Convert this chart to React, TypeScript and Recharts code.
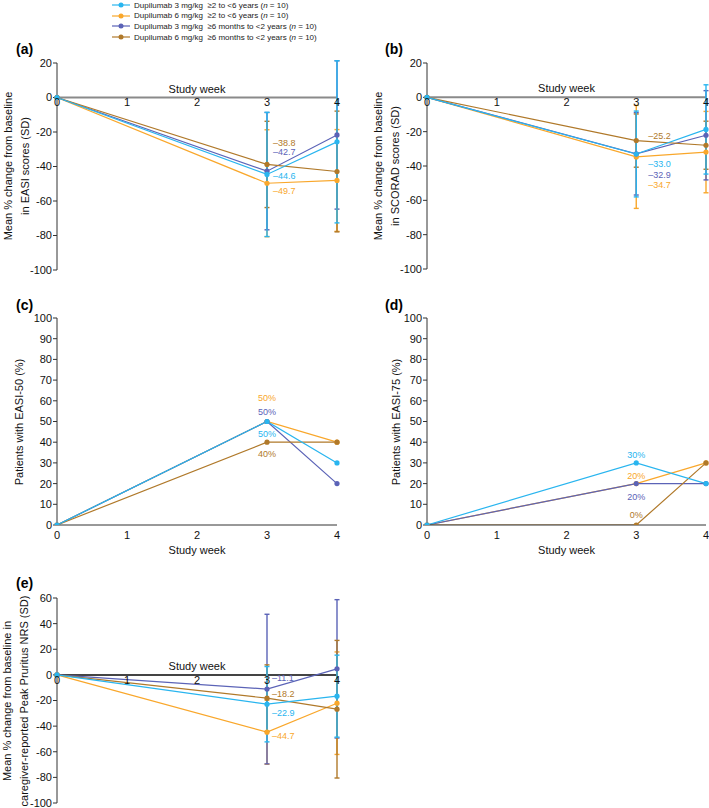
import React from 'react';
import { LineChart, Line, XAxis, YAxis, ErrorBar, ReferenceLine, ReferenceDot, Legend } from 'recharts';

const FONT = '"Liberation Sans", Arial, Helvetica, sans-serif';

const weeks = [0, 3, 4];
const weekTicks = [0, 1, 2, 3, 4];

// series: 3 mg/kg >=2-<6y, 6 mg/kg >=2-<6y, 3 mg/kg >=6mo-<2y, 6 mg/kg >=6mo-<2y
const seriesKeys = ['m3Older', 'm6Older', 'm3Younger', 'm6Younger'];
const seriesColors = ['#29b5ef', '#f9a72b', '#5b63b7', '#b0792a'];
const seriesDose = ['Dupilumab 3 mg/kg', 'Dupilumab 6 mg/kg', 'Dupilumab 3 mg/kg', 'Dupilumab 6 mg/kg'];
const seriesAge = ['≥2 to <6 years', '≥2 to <6 years', '≥6 months to <2 years', '≥6 months to <2 years'];
const seriesN = [10, 10, 10, 10];
const drawOrder = [1, 2, 3, 0];

// (a) EASI, mean % change (SD)
const easiMean3Older = [0, -44.6, -25.7];
const easiMean6Older = [0, -49.7, -48.1];
const easiMean3Younger = [0, -42.7, -21.7];
const easiMean6Younger = [0, -38.8, -42.9];
const easiSd3Older = [null, 36, 47];
const easiSd6Older = [null, 31, 29.5];
const easiSd3Younger = [null, 34, 43];
const easiSd6Younger = [null, 25, 35];

// (b) SCORAD, mean % change (SD)
const scoradMean3Older = [0, -33.0, -18.7];
const scoradMean6Older = [0, -34.7, -31.9];
const scoradMean3Younger = [0, -32.9, -22.1];
const scoradMean6Younger = [0, -25.2, -27.9];
const scoradSd3Older = [null, 25, 26];
const scoradSd6Older = [null, 30, 23.7];
const scoradSd3Younger = [null, 24, 26];
const scoradSd6Younger = [null, 15.5, 14];

// (c) EASI-50 responders (%)
const easi50_3Older = [0, 50, 30];
const easi50_6Older = [0, 50, 40];
const easi50_3Younger = [0, 50, 20];
const easi50_6Younger = [0, 40, 40];

// (d) EASI-75 responders (%)
const easi75_3Older = [0, 30, 20];
const easi75_6Older = [0, 20, 30];
const easi75_3Younger = [0, 20, 20];
const easi75_6Younger = [0, 0, 30];

// (e) Peak Pruritus NRS, mean % change (SD)
const nrsMean3Older = [0, -22.9, -16.6];
const nrsMean6Older = [0, -44.7, -22.1];
const nrsMean3Younger = [0, -11.1, 4.7];
const nrsMean6Younger = [0, -18.2, -26.8];
const nrsSd3Older = [null, 29.4, 32];
const nrsSd6Older = [null, 25, 40];
const nrsSd3Younger = [null, 58.4, 54];
const nrsSd6Younger = [null, 26, 53.7];

const changeTicks = [-100, -80, -60, -40, -20, 0, 20];
const nrsTicks = [-100, -80, -60, -40, -20, 0, 20, 40, 60];
const pctTicks = [0, 10, 20, 30, 40, 50, 60, 70, 80, 90, 100];

function buildRows(means: number[][], sds?: (number | null)[][]) {
  return weeks.map((w, i) => {
    const row: any = { week: w };
    seriesKeys.forEach((k, s) => {
      row[k] = means[s][i];
      if (sds) row[k + 'Sd'] = sds[s][i];
    });
    return row;
  });
}

const dash = (v: number) => (v < 0 ? '\u2013' + Math.abs(v).toFixed(1) : v.toFixed(1));
const pct = (v: number) => `${v}%`;

const valueLabel = (color: string, dx: number, dy: number, anchor: string, fmt: (v: number) => string) => (p: any) => {
  if (p.index !== 1) return <g key={`l${p.index}`} />;
  const x = p.x ?? p.viewBox?.x;
  const y = p.y ?? p.viewBox?.y;
  return (
    <text key={`l${p.index}`} x={x + dx} y={y + dy} dy="0.35em" textAnchor={anchor} fill={color} fontSize={9} fontFamily={FONT}>
      {fmt(p.value)}
    </text>
  );
};

const LegendBox = () => (
  <div style={{ fontFamily: FONT, fontSize: 8, color: '#222' }}>
    {seriesKeys.map((k, i) => (
      <div key={k} style={{ display: 'flex', alignItems: 'center', height: 10.6, whiteSpace: 'pre' }}>
        <svg width={18} height={8} style={{ marginRight: 4 }}>
          <line x1={0} y1={4} x2={18} y2={4} stroke={seriesColors[i]} strokeWidth={1.2} />
          <circle cx={9} cy={4} r={2.5} fill={seriesColors[i]} />
        </svg>
        <span>
          {seriesDose[i]}  {seriesAge[i]} (<i>n</i> = {seriesN[i]})
        </span>
      </div>
    ))}
  </div>
);

function Panel(props: any) {
  const { left, top, width, height, margin, axisWidth, rows, hasSd, domain, ticks, zeroAxis, zeroColor, labels, fmt, withLegend } = props;
  return (
    <div style={{ position: 'absolute', left, top, width, height }}>
      <LineChart width={width} height={height} data={rows} margin={margin} style={{ fontFamily: FONT }}>
        <XAxis
          dataKey="week"
          type="number"
          domain={[0, 4]}
          ticks={weekTicks}
          hide={zeroAxis}
          height={30}
          axisLine={{ stroke: '#333' }}
          tickLine={false}
          tickSize={4}
          tick={{ fontSize: 11, fill: '#111' }}
          label={{ value: 'Study week', position: 'insideBottom', offset: 1, fontSize: 11, fill: '#111' }}
        />
        <YAxis
          type="number"
          domain={domain}
          ticks={ticks}
          allowDataOverflow
          width={axisWidth}
          interval={0}
          axisLine={{ stroke: '#333' }}
          tickLine={{ stroke: '#333' }}
          tickSize={4}
          tickMargin={1}
          tick={{ fontSize: 11, fill: '#111' }}
        />
        {zeroAxis && (
          <ReferenceLine
            y={0}
            stroke={zeroColor}
            strokeWidth={2}
            label={{ value: 'Study week', position: 'top', offset: 5, fontSize: 11, fill: '#111' }}
          />
        )}
        {zeroAxis &&
          weekTicks.map((w) => (
            <ReferenceDot
              key={w}
              x={w}
              y={0}
              r={0}
              fill="none"
              stroke="none"
              label={{ value: String(w), position: 'bottom', offset: 1, fontSize: 11, fill: '#111' }}
            />
          ))}
        {drawOrder.map((s) => (
          <Line
            key={seriesKeys[s]}
            dataKey={seriesKeys[s]}
            name={`${seriesDose[s]}  ${seriesAge[s]} (n = ${seriesN[s]})`}
            stroke={seriesColors[s]}
            strokeWidth={1.2}
            dot={{ r: 2.6, fill: seriesColors[s], stroke: seriesColors[s], strokeWidth: 0 }}
            activeDot={false}
            isAnimationActive={false}
            label={valueLabel(seriesColors[s], labels[s][0], labels[s][1], labels[s][2], fmt)}
          >
            {hasSd && (
              <ErrorBar dataKey={seriesKeys[s] + 'Sd'} width={2.5} strokeWidth={1.4} stroke={seriesColors[s]} direction="y" />
            )}
          </Line>
        ))}
        {withLegend && (
          <Legend
            layout="vertical"
            align="center"
            verticalAlign="middle"
            wrapperStyle={{ left: 112, top: 0, width: 240 }}
            content={() => <LegendBox />}
          />
        )}
      </LineChart>
    </div>
  );
}

const Tag = ({ x, y, text }: any) => (
  <div style={{ position: 'absolute', left: x, top: y, fontFamily: FONT, fontWeight: 'bold', fontSize: 14, lineHeight: '14px' }}>
    {text}
  </div>
);

const YTitle = ({ cx, cy, lines }: any) => (
  <div
    style={{
      position: 'absolute',
      left: cx,
      top: cy,
      transform: 'translate(-50%, -50%) rotate(-90deg)',
      whiteSpace: 'nowrap',
      textAlign: 'center',
      fontFamily: FONT,
      fontSize: 11,
      lineHeight: '17px',
      color: '#111',
    }}
  >
    {lines.map((t: string, i: number) => (
      <div key={i}>{t}</div>
    ))}
  </div>
);

export default function App() {
  const rowsA = buildRows(
    [easiMean3Older, easiMean6Older, easiMean3Younger, easiMean6Younger],
    [easiSd3Older, easiSd6Older, easiSd3Younger, easiSd6Younger]
  );
  const rowsB = buildRows(
    [scoradMean3Older, scoradMean6Older, scoradMean3Younger, scoradMean6Younger],
    [scoradSd3Older, scoradSd6Older, scoradSd3Younger, scoradSd6Younger]
  );
  const rowsC = buildRows([easi50_3Older, easi50_6Older, easi50_3Younger, easi50_6Younger]);
  const rowsD = buildRows([easi75_3Older, easi75_6Older, easi75_3Younger, easi75_6Younger]);
  const rowsE = buildRows(
    [nrsMean3Older, nrsMean6Older, nrsMean3Younger, nrsMean6Younger],
    [nrsSd3Older, nrsSd6Older, nrsSd3Younger, nrsSd6Younger]
  );

  return (
    <div style={{ position: 'absolute', left: 0, top: 0, width: 709, height: 808, background: '#fff', overflow: 'hidden' }}>
      <Panel
        left={0} top={0} width={350} height={290}
        margin={{ top: 63, right: 13, bottom: 20, left: 0 }}
        axisWidth={57}
        rows={rowsA} hasSd domain={[-100, 20]} ticks={changeTicks}
        zeroAxis zeroColor="#8a8a8a" fmt={dash} withLegend
        labels={[[6, 1, 'start'], [6, 8, 'start'], [6, -19, 'start'], [6, -22, 'start']]}
      />
      <Panel
        left={350} top={0} width={359} height={290}
        margin={{ top: 63, right: 3, bottom: 21, left: 0 }}
        axisWidth={77}
        rows={rowsB} hasSd domain={[-100, 20]} ticks={changeTicks}
        zeroAxis zeroColor="#8a8a8a" fmt={dash}
        labels={[[12, 9.5, 'start'], [12, 28, 'start'], [12, 21, 'start'], [12, -5, 'start']]}
      />
      <Panel
        left={0} top={290} width={350} height={270}
        margin={{ top: 28, right: 13, bottom: 5, left: 0 }}
        axisWidth={57}
        rows={rowsC} domain={[0, 100]} ticks={pctTicks} fmt={pct}
        labels={[[0, 12.4, 'middle'], [0, -23.4, 'middle'], [0, -9.3, 'middle'], [0, 11.4, 'middle']]}
      />
      <Panel
        left={350} top={290} width={359} height={270}
        margin={{ top: 28, right: 3, bottom: 5, left: 0 }}
        axisWidth={77}
        rows={rowsD} domain={[0, 100]} ticks={pctTicks} fmt={pct}
        labels={[[0, -8.3, 'middle'], [0, -8, 'middle'], [0, 13, 'middle'], [0, -10, 'middle']]}
      />
      <Panel
        left={0} top={560} width={350} height={248}
        margin={{ top: 38, right: 13, bottom: 5, left: 0 }}
        axisWidth={57}
        rows={rowsE} hasSd domain={[-100, 60]} ticks={nrsTicks}
        zeroAxis zeroColor="#444" fmt={dash}
        labels={[[5, 8.3, 'start'], [5, 3.3, 'start'], [5, -11.3, 'start'], [5, -4.4, 'start']]}
      />

      <Tag x={16} y={42} text="(a)" />
      <Tag x={385} y={42} text="(b)" />
      <Tag x={16} y={298} text="(c)" />
      <Tag x={385} y={298} text="(d)" />
      <Tag x={16} y={576} text="(e)" />

      <YTitle cx={16.5} cy={166} lines={['Mean % change from baseline', 'in EASI scores (SD)']} />
      <YTitle cx={386.5} cy={166} lines={['Mean % change from baseline', 'in SCORAD scores (SD)']} />
      <YTitle cx={18.5} cy={421.5} lines={['Patients with EASI-50 (%)']} />
      <YTitle cx={396} cy={421.5} lines={['Patients with EASI-75 (%)']} />
      <YTitle cx={15.5} cy={700.5} lines={['Mean % change from baseline in', 'caregiver-reported Peak Pruritus NRS (SD)']} />
    </div>
  );
}
